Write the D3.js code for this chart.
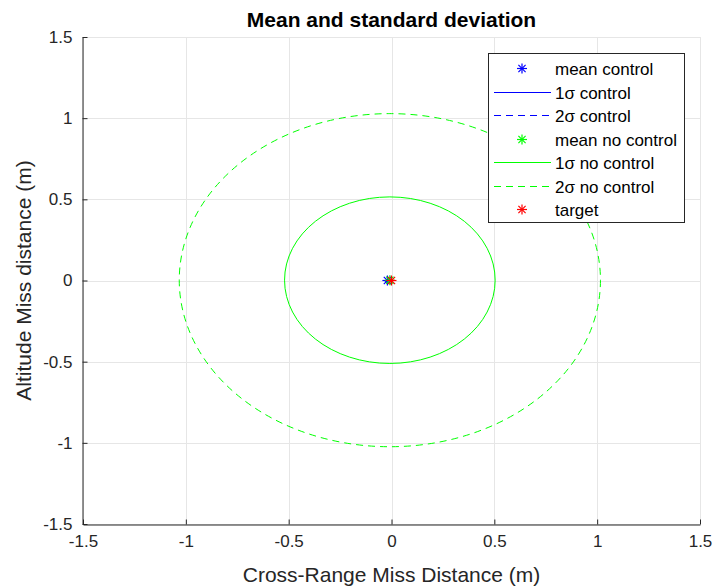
<!DOCTYPE html>
<html>
<head>
<meta charset="utf-8">
<script src="https://cdn.jsdelivr.net/npm/d3@7"></script>
<style>
  html, body { margin: 0; padding: 0; background: #fff; }
  svg { display: block; font-family: "Liberation Sans", Arial, Helvetica, sans-serif; }
</style>
</head>
<body>
<svg id="chart" width="715" height="586"></svg>
<script>
// Axis ticks
const xTicks = [-1.5, -1, -0.5, 0, 0.5, 1, 1.5];
const yTicks = [-1.5, -1, -0.5, 0, 0.5, 1, 1.5];

// Mean points [x, y] (m)
const meanControl = [-0.02, 0.0];
const meanNoControl = [-0.008, 0.002];
const target = [0, 0];

// Standard deviations [sx, sy] (m)
const sigmaControl = [0.006, 0.006];
const sigmaNoControl = [0.512, 0.513];

// Legend entries
const legendItems = [
  { label: "mean control", kind: "star", color: "#0000ff" },
  { label: "1σ control", kind: "solid", color: "#0000ff" },
  { label: "2σ control", kind: "dash", color: "#0000ff" },
  { label: "mean no control", kind: "star", color: "#00ff00" },
  { label: "1σ no control", kind: "solid", color: "#00ff00" },
  { label: "2σ no control", kind: "dash", color: "#00ff00" },
  { label: "target", kind: "star", color: "#ff0000" }
];

const svg = d3.select("#chart");
const L = 83, R = 700, T = 37, B = 524;

const x = d3.scaleLinear().domain([-1.5, 1.5]).range([L, R]);
const y = d3.scaleLinear().domain([-1.5, 1.5]).range([B, T]);

// Grid
const grid = svg.append("g").attr("stroke", "#e6e6e6").attr("stroke-width", 1);
xTicks.forEach(t => grid.append("line")
  .attr("x1", Math.round(x(t)) + 0.5).attr("x2", Math.round(x(t)) + 0.5)
  .attr("y1", T).attr("y2", B));
yTicks.forEach(t => grid.append("line")
  .attr("x1", L).attr("x2", R)
  .attr("y1", Math.round(y(t)) + 0.5).attr("y2", Math.round(y(t)) + 0.5));

// Axes
const fmt = d => d === 0 ? "0" : String(d);
const xAxis = svg.append("g").attr("transform", `translate(0,${B + 0.5})`)
  .call(d3.axisBottom(x).tickValues(xTicks).tickFormat(fmt).tickSizeInner(-5).tickSizeOuter(0).tickPadding(10));
const yAxis = svg.append("g").attr("transform", `translate(${L - 0.5},0)`)
  .call(d3.axisLeft(y).tickValues(yTicks).tickFormat(fmt).tickSizeInner(-5).tickSizeOuter(0).tickPadding(10));
[xAxis, yAxis].forEach(a => {
  a.select(".domain").attr("stroke", "#262626");
  a.selectAll(".tick line").attr("stroke", "#262626");
  a.selectAll(".tick text").attr("fill", "#262626").attr("font-size", 17)
    .attr("font-family", "Liberation Sans, Arial, sans-serif");
});

// Ellipse drawing helper
function ellipse(center, sig, k, color, dashed) {
  const rx = Math.abs(x(center[0] + k * sig[0]) - x(center[0]));
  const ry = Math.abs(y(center[1] + k * sig[1]) - y(center[1]));
  svg.append("ellipse")
    .attr("cx", x(center[0])).attr("cy", y(center[1]))
    .attr("rx", rx).attr("ry", ry)
    .attr("fill", "none").attr("stroke", color).attr("stroke-width", 1)
    .attr("stroke-dasharray", dashed ? "7,5" : null);
}

ellipse(meanControl, sigmaControl, 1, "#0000ff", false);
ellipse(meanControl, sigmaControl, 2, "#0000ff", true);
ellipse(meanNoControl, sigmaNoControl, 1, "#00ff00", false);
ellipse(meanNoControl, sigmaNoControl, 2, "#00ff00", true);

// Asterisk marker
function star(g, cx, cy, color, r = 5) {
  const s = g.append("g").attr("transform", `translate(${cx},${cy})`)
    .attr("stroke", color).attr("stroke-width", 1.2);
  s.append("line").attr("x1", -r).attr("x2", r).attr("y1", 0).attr("y2", 0);
  s.append("line").attr("x1", 0).attr("x2", 0).attr("y1", -r).attr("y2", r);
  const d = r * 0.72;
  s.append("line").attr("x1", -d).attr("x2", d).attr("y1", -d).attr("y2", d);
  s.append("line").attr("x1", -d).attr("x2", d).attr("y1", d).attr("y2", -d);
}

star(svg, x(meanControl[0]), y(meanControl[1]), "#0000ff");
star(svg, x(meanNoControl[0]), y(meanNoControl[1]), "#00ff00");
star(svg, x(target[0]), y(target[1]), "#ff0000");

// Title and axis labels
svg.append("text").attr("x", (L + R) / 2).attr("y", 27)
  .attr("text-anchor", "middle").attr("font-size", 21).attr("font-weight", "bold")
  .attr("fill", "#000").text("Mean and standard deviation");
svg.append("text").attr("x", (L + R) / 2).attr("y", 582)
  .attr("text-anchor", "middle").attr("font-size", 21).attr("fill", "#262626")
  .text("Cross-Range Miss Distance (m)");
svg.append("text").attr("transform", `translate(31,${(T + B) / 2}) rotate(-90)`)
  .attr("text-anchor", "middle").attr("font-size", 21).attr("fill", "#262626")
  .text("Altitude Miss distance (m)");

// Legend
const lg = svg.append("g");
lg.append("rect").attr("x", 488.5).attr("y", 53.5).attr("width", 196).attr("height", 169)
  .attr("fill", "#fff").attr("stroke", "#262626").attr("stroke-width", 1);
const rowY = d3.scaleLinear().domain([0, legendItems.length - 1]).range([68, 209]);
legendItems.forEach((it, i) => {
  const yy = Math.round(rowY(i)) + 0.5;
  if (it.kind === "star") {
    star(lg, 522, yy, it.color);
  } else {
    lg.append("line").attr("x1", 494).attr("x2", 551).attr("y1", yy).attr("y2", yy)
      .attr("stroke", it.color).attr("stroke-width", 1)
      .attr("stroke-dasharray", it.kind === "dash" ? "7,5" : null);
  }
  lg.append("text").attr("x", 555).attr("y", yy + 6).attr("font-size", 17)
    .attr("fill", "#000").text(it.label);
});
</script>
</body>
</html>
